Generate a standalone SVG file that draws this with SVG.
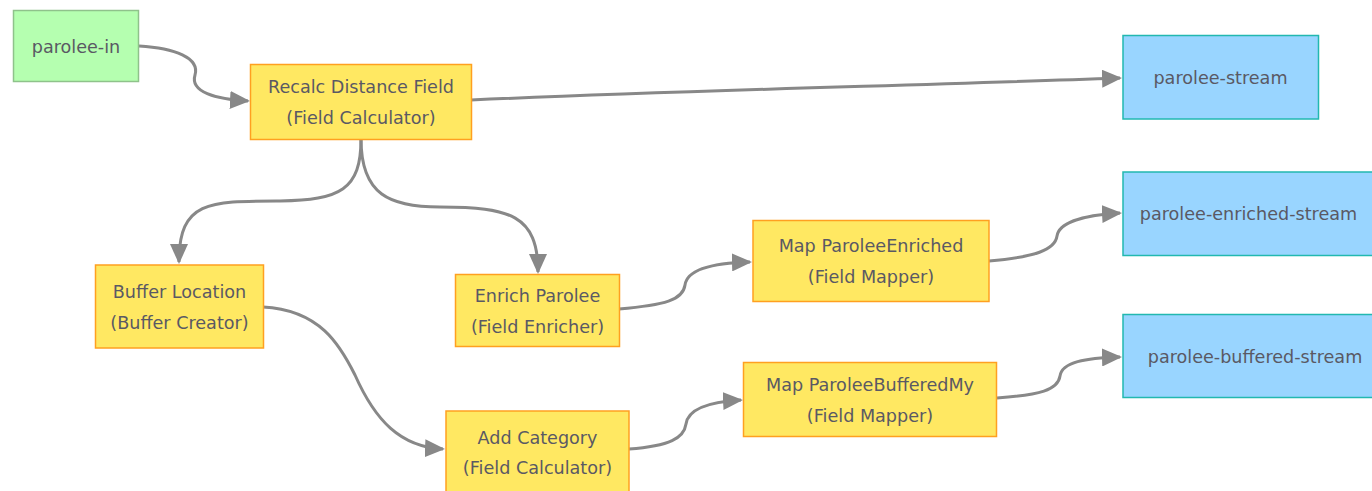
<svg xmlns="http://www.w3.org/2000/svg" width="1372" height="491" viewBox="0 0 1372 491">
<defs>
<style>
text{font-family:"DejaVu Sans","Verdana",sans-serif;font-size:17.6px;fill:#5a5964;text-anchor:middle}
.src{fill:#b5ffb0;stroke:#8fc28b;stroke-width:1.5}
.proc{fill:#ffe862;stroke:#ffa020;stroke-width:1.5}
.sink{fill:#99d5ff;stroke:#22b8b0;stroke-width:1.5}
.edge{fill:none;stroke:#888;stroke-width:3;marker-end:url(#arrow)}
</style>
<marker id="arrow" viewBox="0 0 20 18" markerWidth="20" markerHeight="18" refX="18" refY="9" orient="auto" markerUnits="userSpaceOnUse">
<path d="M0,0 L20,9 L0,18 z" fill="#888"/>
</marker>
</defs>
<rect width="1372" height="491" fill="#ffffff"/>
<g id="connectors">
<path class="edge" d="M139,46 C175,48 200,58 195,75 C190,92 215,99 248,101"/>
<path class="edge" d="M471,100 C700,90 900,86 1120,78"/>
<path class="edge" d="M361,139 C361,190 340,200 280,201 C210,201 179,200 179,262"/>
<path class="edge" d="M361,139 C361,195 390,207 440,207 C510,207 538,215 538,272"/>
<path class="edge" d="M263,307 C320,310 340,345 355,375 C375,420 400,447 443,449"/>
<path class="edge" d="M619,309 C665,305 683,300 685,285 C687,270 710,263 750,262"/>
<path class="edge" d="M629,449 C670,446 684,438 686,424 C688,410 705,402 741,400"/>
<path class="edge" d="M989,261 C1035,257 1055,250 1057,236 C1059,222 1085,215 1120,213"/>
<path class="edge" d="M997,398 C1040,395 1058,390 1060,376 C1062,362 1085,358 1120,357"/>
</g>
<g id="parolee-in">
<rect class="src" x="13.5" y="10.5" width="125" height="71"/>
<text x="76" y="52.5">parolee-in</text>
</g>
<g id="recalc-distance-field">
<rect class="proc" x="250.5" y="64.5" width="221" height="75"/>
<text x="361" y="92.5">Recalc Distance Field</text>
<text x="361" y="123.5">(Field Calculator)</text>
</g>
<g id="parolee-stream">
<rect class="sink" x="1123" y="35.5" width="195.5" height="83.5"/>
<text x="1220.5" y="83.5">parolee-stream</text>
</g>
<g id="buffer-location">
<rect class="proc" x="95.5" y="265" width="168" height="83"/>
<text x="179.5" y="297.5">Buffer Location</text>
<text x="179.5" y="328.5">(Buffer Creator)</text>
</g>
<g id="enrich-parolee">
<rect class="proc" x="455.5" y="274.5" width="164" height="72"/>
<text x="537.5" y="301.5">Enrich Parolee</text>
<text x="537.5" y="332.5">(Field Enricher)</text>
</g>
<g id="map-parolee-enriched">
<rect class="proc" x="753" y="220.5" width="236" height="81"/>
<text x="871" y="252">Map ParoleeEnriched</text>
<text x="871" y="283">(Field Mapper)</text>
</g>
<g id="parolee-enriched-stream">
<rect class="sink" x="1123" y="172" width="252" height="83.5"/>
<text x="1248.5" y="220">parolee-enriched-stream</text>
</g>
<g id="add-category">
<rect class="proc" x="446" y="411" width="183" height="84"/>
<text x="537.5" y="443.5">Add Category</text>
<text x="537.5" y="474">(Field Calculator)</text>
</g>
<g id="map-parolee-buffered">
<rect class="proc" x="743.5" y="362.5" width="253" height="74"/>
<text x="870" y="390.5">Map ParoleeBufferedMy</text>
<text x="870" y="421.5">(Field Mapper)</text>
</g>
<g id="parolee-buffered-stream">
<rect class="sink" x="1123" y="314.5" width="265" height="83"/>
<text x="1255" y="362.5">parolee-buffered-stream</text>
</g>
</svg>
